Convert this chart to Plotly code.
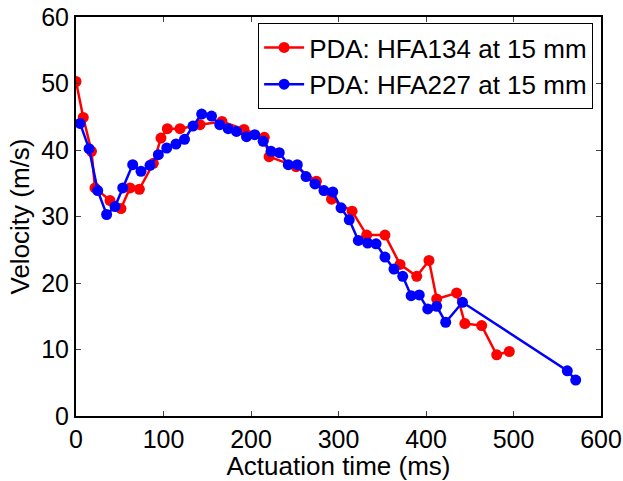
import plotly.graph_objects as go

red_x = [0, 8.3, 17.7, 21.7, 38.9, 51.4, 61.7, 72.4, 88.4, 97.1, 104.4, 118.9, 141.7, 166.8,
         192.0, 215.2, 220.7, 251.5, 274.7, 292.0, 315.5, 332.2, 353.1, 370.3, 389.4, 403.4,
         412.2, 435.0, 444.4, 463.6, 480.8, 495.2]
red_y = [50.3, 44.9, 39.8, 34.3, 32.4, 31.2, 34.3, 34.1, 38.0, 41.8, 43.2, 43.2, 43.8, 44.3,
         43.1, 41.9, 39.0, 37.5, 35.3, 32.6, 30.8, 27.2, 27.2, 22.8, 21.0, 23.4,
         17.6, 18.5, 13.9, 13.6, 9.2, 9.7]

blue_x = [4.6, 14.9, 24.8, 35.0, 44.6, 53.4, 64.8, 74.3, 84.6, 94.1, 103.7, 114.3, 124.0, 133.7,
          143.6, 154.9, 164.3, 173.9, 183.4, 194.9, 204.3, 213.9, 222.9, 232.3, 242.6, 252.9,
          262.9, 273.1, 283.4, 293.4, 302.9, 312.3, 322.7, 333.3, 342.9, 353.1, 363.4, 373.4,
          383.0, 392.3, 402.0, 412.2, 422.5, 441.7, 561.5, 571.1]
blue_y = [44.0, 40.2, 33.9, 30.3, 31.5, 34.3, 37.8, 36.8, 37.7, 39.3, 40.3, 40.9, 41.6, 43.6,
          45.4, 45.1, 43.8, 43.2, 42.8, 42.0, 42.3, 41.3, 39.8, 39.6, 37.8, 37.8,
          36.0, 34.9, 33.9, 33.7, 31.3, 29.5, 26.4, 26.0, 25.9, 23.9, 22.1, 21.0,
          18.1, 18.2, 16.1, 16.5, 14.1, 17.1, 6.8, 5.4]

x_ticks = [0, 100, 200, 300, 400, 500, 600]
y_ticks = [0, 10, 20, 30, 40, 50, 60]

font = "Liberation Sans, Arial, sans-serif"

fig = go.Figure()
fig.add_trace(go.Scatter(x=red_x, y=red_y, mode="lines+markers", name="PDA: HFA134 at 15 mm",
                         line=dict(color="#ff0000", width=2.5),
                         marker=dict(color="#ff0000", size=11)))
fig.add_trace(go.Scatter(x=blue_x, y=blue_y, mode="lines+markers", name="PDA: HFA227 at 15 mm",
                         line=dict(color="#0000ff", width=2.5),
                         marker=dict(color="#0000ff", size=11)))

fig.update_layout(
    width=623, height=481,
    margin=dict(l=76, r=22, t=17, b=65),
    paper_bgcolor="white", plot_bgcolor="white",
    font=dict(family=font, size=25, color="black"),
    showlegend=True,
    legend=dict(x=0.985, y=0.985, xanchor="right", yanchor="top",
                bgcolor="white", bordercolor="black", borderwidth=1,
                font=dict(size=26, family=font), tracegroupgap=0,
                itemwidth=40),
)
fig.update_xaxes(range=[0, 600], tickvals=x_ticks, ticks="inside", ticklen=5,
                 showline=True, linecolor="black", linewidth=2, mirror="ticks",
                 showgrid=False, zeroline=False, automargin=False,
                 title=dict(text="Actuation time (ms)", font=dict(size=26), standoff=2),
                 tickfont=dict(size=25))
fig.update_yaxes(range=[0, 60], tickvals=y_ticks, ticks="inside", ticklen=5,
                 showline=True, linecolor="black", linewidth=2, mirror="ticks",
                 showgrid=False, zeroline=False, automargin=False,
                 title=dict(text="Velocity (m/s)", font=dict(size=26), standoff=4),
                 tickfont=dict(size=25))

fig.write_html("out.html")
